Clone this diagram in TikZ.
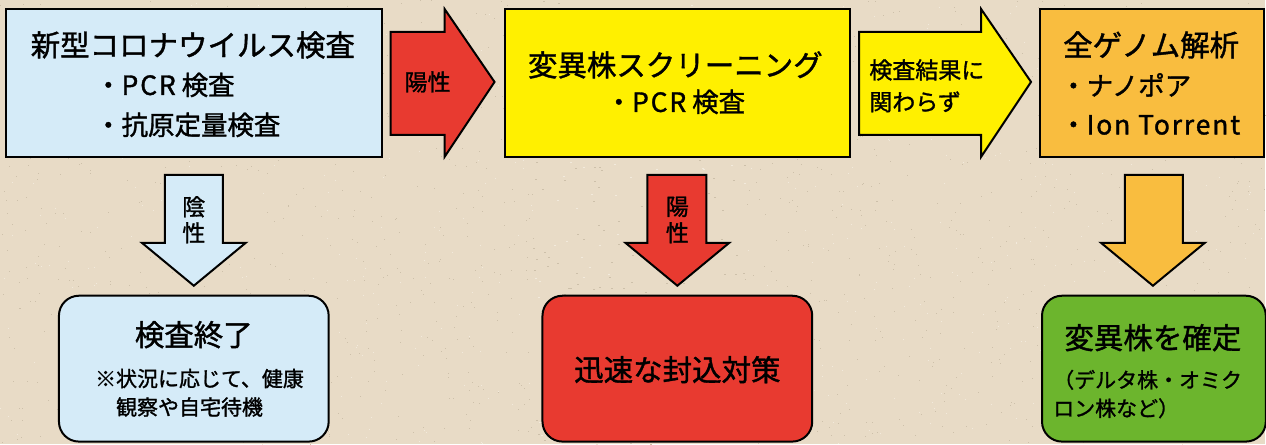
\documentclass[tikz,border=0pt]{standalone}
\usepackage{fontspec}
\setmainfont{Noto Sans CJK JP}[FakeBold=1.3]
\definecolor{bgc}{HTML}{E8DBC6}
\definecolor{speck}{HTML}{CDC0AA}
\definecolor{speckl}{HTML}{F2EADC}
\definecolor{lblue}{HTML}{D5EBF8}
\definecolor{cred}{HTML}{E83A30}
\definecolor{cyel}{HTML}{FFF000}
\definecolor{corg}{HTML}{F9BD3F}
\definecolor{cgrn}{HTML}{6CB52D}
\tikzset{
  boxs/.style={draw=black, line width=2pt, inner sep=0pt},
  rbox/.style={boxs, rounded corners=20pt},
  blockarrow/.style={draw=black, line width=2pt, line join=miter},
  big/.style={font=\fontsize{29.5}{34}\selectfont, inner sep=0pt},
  mid/.style={font=\fontsize{26.5}{40}\selectfont, inner sep=0pt},
  lab/.style={font=\fontsize{23}{27}\selectfont, inner sep=0pt},
  small/.style={font=\fontsize{21}{28.5}\selectfont, inner sep=0pt, align=left},
}
\newcommand{\widelat}[1]{{\addfontfeature{LetterSpace=7}#1}}
\begin{document}
\begin{tikzpicture}[x=1pt,y=-1pt]
\fill[bgc] (0,0) rectangle (1266,444);
\pgfmathsetseed{7}
\foreach \i in {1,...,1400}{
  \pgfmathsetmacro{\px}{random(0,1266)}
  \pgfmathsetmacro{\py}{random(0,444)}
  \fill[speck] (\px,\py) rectangle ++(1.2,1.2);
}
\foreach \i in {1,...,600}{
  \pgfmathsetmacro{\px}{random(0,1266)}
  \pgfmathsetmacro{\py}{random(0,444)}
  \fill[speckl] (\px,\py) rectangle ++(1.2,1.2);
}
\useasboundingbox (0,0) rectangle (1266,444);

% top boxes
\node[boxs, fill=lblue, minimum width=376pt, minimum height=148pt] (b1) at (194,83) {};
\node[boxs, fill=cyel, minimum width=346pt, minimum height=148pt] (b2) at (678,83) {};
\node[boxs, fill=corg, minimum width=224pt, minimum height=148pt] (b3) at (1153,83) {};

% bottom boxes
\node[rbox, fill=lblue, minimum width=270pt, minimum height=146pt] (b4) at (194,369) {};
\node[rbox, fill=cred, minimum width=270pt, minimum height=146pt] (b5) at (678,369) {};
\node[rbox, fill=cgrn, minimum width=224pt, minimum height=146pt] (b6) at (1155,369) {};

% right arrows
\draw[blockarrow, fill=cred] (391,32)--(445,32)--(445,9)--(495,82)--(445,157)--(445,135)--(391,135)--cycle;
\draw[blockarrow, fill=cyel] (860,32)--(982,32)--(982,9)--(1032,82)--(982,157)--(982,135)--(860,135)--cycle;

% down arrows
\draw[blockarrow, fill=lblue] (165,175)--(223,175)--(223,243)--(246,243)--(194,286)--(142,243)--(165,243)--cycle;
\draw[blockarrow, fill=cred] (648,175)--(707,175)--(707,243)--(730,243)--(678,286)--(626,243)--(648,243)--cycle;
\draw[blockarrow, fill=corg] (1126,175)--(1184,175)--(1184,243)--(1206,243)--(1154,286)--(1102,243)--(1126,243)--cycle;

% texts box1
\node[big] (t1) at (193,45) {新型コロナウイルス検査};
\node[mid, anchor=west] (t1a) at (95,85) {・\widelat{PCR} 検査};
\node[mid, anchor=west] (t1b) at (95,125) {・抗原定量検査};

% arrow1 label
\node[lab] (a1) at (428,82) {陽性};

% box2
\node[big] (t2) at (676,65) {変異株スクリーニング};
\node[mid] (t2a) at (676,102) {・\widelat{PCR} 検査};

% arrow2 label
\node[lab, anchor=west] (a2a) at (870,70) {検査結果に};
\node[lab, anchor=west] (a2b) at (870,102) {関わらず};

% box3
\node[big, anchor=west] (t3) at (1064,45) {全ゲノム解析};
\node[mid, anchor=west] (t3a) at (1061,85) {・ナノポア};
\node[mid, anchor=west] (t3b) at (1061,125) {・\widelat{Ion Torrent}};

% down arrow labels
\node[lab] (d1a) at (194,207) {陰};
\node[lab] (d1b) at (194,233) {性};
\node[lab] (d2a) at (678,207) {陽};
\node[lab] (d2b) at (678,233) {性};

% box4
\node[big] (t4) at (194,335) {検査終了};
\node[small, anchor=north west] (t4a) at (95,369) {※状況に応じて、健康\\　観察や自宅待機};

% box5
\node[big] (t5) at (678,370) {迅速な封込対策};

% box6
\node[big] (t6) at (1154,338) {変異株を確定};
\node[small, anchor=north west] (t6a) at (1054,370) {（デルタ株・オミク\\ロン株など）};
\end{tikzpicture}
\end{document}
